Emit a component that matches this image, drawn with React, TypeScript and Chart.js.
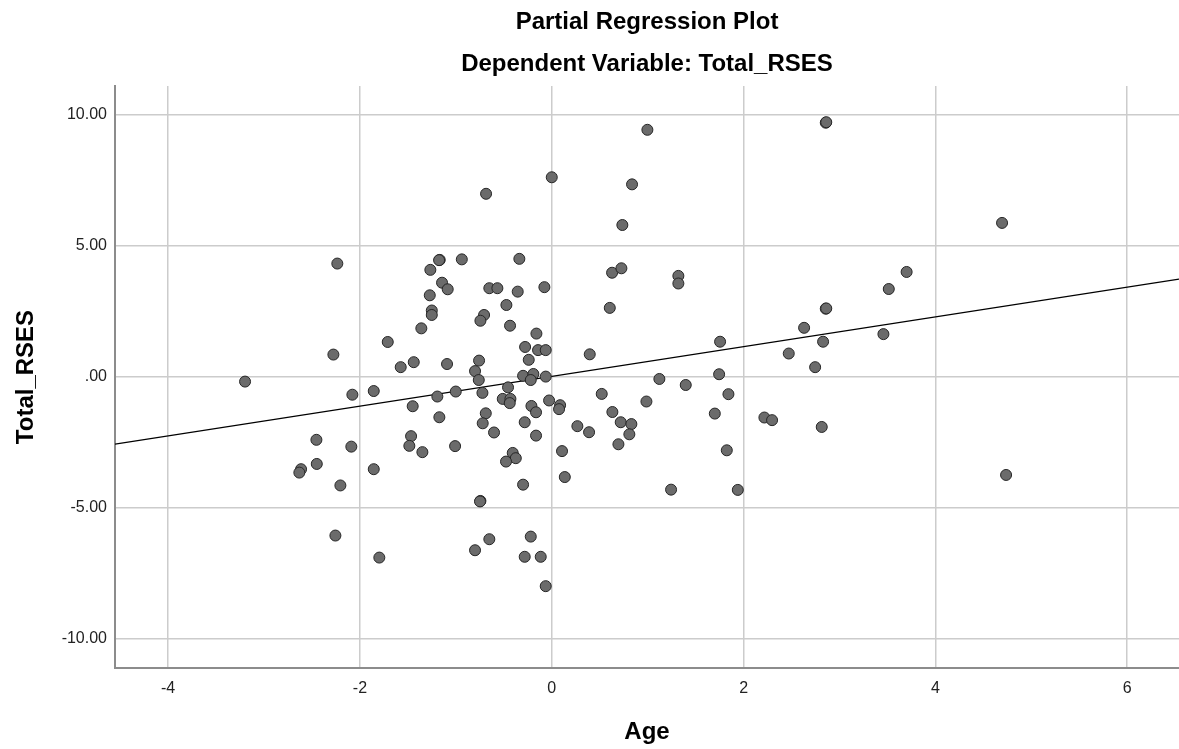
import React, { useEffect, useRef } from "react";
import { Chart, registerables } from "chart.js";

Chart.register(...registerables);

// Partial regression residuals (Age residual vs Total_RSES residual)
const ageResid: number[] = [
  -3.198, -2.236, -2.277, -1.71, -1.575, -2.079, -1.856, -2.454, -2.09, -2.45,
  -2.614, -2.632, -1.856, -2.204, -2.256, -1.798, 0.997, 0.0, -0.685, 0.837,
  0.736, -1.168, -1.175, -0.938, -0.338, -1.266, 0.629, 0.726, -1.144, -1.085,
  -0.651, -0.567, -0.355, -0.077, -1.272, -0.473, 0.605, -1.251, -1.251, -0.706,
  -0.744, -0.435, -1.36, -0.16, -0.278, -0.143, -0.063, 0.396, -0.24, -1.439,
  -1.092, -0.758, -0.8, -0.761, -0.299, -0.192, -0.219, -0.063, 1.122, 1.32,
  1.32, -0.456, -1.193, -1.001, -0.723, -0.511, -0.431, -0.438, -0.212, -0.164,
  -0.028, 0.087, 0.076, 0.521, 0.987, 0.632, 0.719, 0.83, 0.809, 0.695,
  0.267, 0.389, 0.107, 0.136, 1.244, -1.45, -1.172, -0.688, -0.72, -0.602,
  -0.282, -0.164, -1.467, -1.485, -1.349, -1.008, -0.407, -0.375, -0.477, -0.299,
  -0.744, -0.748, -0.651, -0.8, -0.219, -0.282, -0.115, -0.063, 2.857, 2.862,
  3.7, 3.514, 2.857, 2.862, 2.631, 2.829, 3.458, 1.755, 2.471, 2.746,
  1.745, 1.397, 1.842, 1.7, 2.217, 2.297, 2.815, 1.825, 1.94, 4.695,
  4.737,
];

const rsesResid: number[] = [
  -0.19, 4.31, 0.84, 1.32, 0.36, -0.69, -0.55, -2.41, -2.67, -3.33,
  -3.53, -3.66, -3.53, -4.15, -6.06, -6.9, 9.41, 7.6, 6.97, 7.33,
  5.78, 4.45, 4.44, 4.47, 4.49, 4.07, 3.96, 4.13, 3.58, 3.33,
  3.37, 3.37, 3.24, 3.41, 3.1, 2.73, 2.62, 2.52, 2.35, 2.35,
  2.13, 1.94, 1.84, 1.64, 1.13, 1.01, 1.01, 0.85, 0.64, 0.55,
  0.48, 0.61, 0.21, -0.13, 0.03, 0.1, -0.13, 0.0, -0.09, 3.84,
  3.55, -0.41, -0.76, -0.57, -0.62, -0.85, -0.85, -1.01, -1.12, -1.36,
  -0.91, -1.09, -1.24, -0.66, -0.95, -1.35, -1.74, -1.81, -2.2, -2.58,
  -1.89, -2.12, -2.84, -3.83, -4.31, -1.13, -1.55, -1.4, -1.78, -2.13,
  -1.74, -2.25, -2.27, -2.64, -2.88, -2.65, -2.91, -3.11, -3.24, -4.12,
  -4.74, -4.76, -6.2, -6.62, -6.1, -6.87, -6.87, -7.99, 9.68, 9.7,
  3.99, 3.34, 2.59, 2.6, 1.86, 1.33, 1.62, 1.33, 0.88, 0.36,
  0.09, -0.32, -0.67, -1.41, -1.56, -1.66, -1.92, -2.81, -4.32, 5.86,
  -3.75,
];

// Fit line (slope, intercept) of the partial regression
const fitSlope = 0.567;
const fitIntercept = 0.01;

// Axis ranges and tick steps
const xRange: number[] = [-4.554, 6.54];
const yRange: number[] = [-11.11, 11.08];
const xStep = 2;
const yStep = 5;

const TITLE = "Partial Regression Plot";
const SUBTITLE = "Dependent Variable: Total_RSES";
const X_TITLE = "Age";
const Y_TITLE = "Total_RSES";

const FONT = "'Liberation Sans', Arial, Helvetica, sans-serif";

export default function App() {
  const canvasRef = useRef<HTMLCanvasElement | null>(null);

  useEffect(() => {
    document.body.style.margin = "0";
    const canvas = canvasRef.current;
    if (!canvas) return;

    const points = ageResid.map((x, i) => ({ x, y: rsesResid[i] }));
    const linePts = xRange.map((x) => ({ x, y: fitIntercept + fitSlope * x }));

    const chart = new Chart(canvas, {
      type: "scatter",
      data: {
        datasets: [
          {
            type: "line",
            label: "Fit",
            data: linePts,
            borderColor: "#000000",
            borderWidth: 1.2,
            pointRadius: 0,
            fill: false,
            order: 2,
          },
          {
            label: "Residuals",
            data: points,
            backgroundColor: "#6b6b6b",
            borderColor: "#262626",
            borderWidth: 1,
            pointRadius: 5.5,
            pointHoverRadius: 5.5,
            order: 1,
          },
        ],
      },
      options: {
        animation: false,
        responsive: false,
        maintainAspectRatio: false,
        devicePixelRatio: 1,
        layout: { padding: 0, autoPadding: false },
        plugins: {
          legend: { display: false },
          tooltip: { enabled: false },
          title: {
            display: true,
            text: TITLE,
            fullSize: false,
            color: "#000000",
            font: { family: FONT, size: 24, weight: "bold", lineHeight: 1.2 },
            padding: { top: 7.6, bottom: 6.5 },
          },
          subtitle: {
            display: true,
            text: SUBTITLE,
            fullSize: false,
            color: "#000000",
            font: { family: FONT, size: 24, weight: "bold", lineHeight: 1.2 },
            padding: { top: 7, bottom: 7.3 },
          },
        },
        scales: {
          x: {
            type: "linear",
            position: "bottom",
            min: xRange[0],
            max: xRange[1],
            afterFit: (s: any) => {
              s.height = 81;
              s.paddingLeft = 0;
              s.paddingRight = 0;
            },
            ticks: {
              stepSize: xStep,
              includeBounds: false,
              color: "#222222",
              font: { family: FONT, size: 16 },
              padding: 11,
              maxRotation: 0,
              callback: (v: any) => String(v),
            },
            grid: {
              color: "#cccccc",
              lineWidth: 1.5,
              drawTicks: false,
            },
            border: { display: true, color: "#8c8c8c", width: 2 },
            title: {
              display: true,
              text: X_TITLE,
              color: "#000000",
              font: { family: FONT, size: 24, weight: "bold", lineHeight: 1.2 },
              padding: { top: 0, bottom: 2 },
            },
          },
          y: {
            type: "linear",
            position: "left",
            min: yRange[0],
            max: yRange[1],
            afterFit: (s: any) => {
              s.width = 115;
              s.paddingTop = 0;
              s.paddingBottom = 0;
            },
            ticks: {
              stepSize: yStep,
              includeBounds: false,
              color: "#222222",
              font: { family: FONT, size: 16 },
              padding: 8,
              callback: (v: any) => {
                const n = Number(v);
                if (Math.abs(n) < 1e-9) return ".00";
                return n.toFixed(2);
              },
            },
            grid: {
              color: "#cccccc",
              lineWidth: 1.5,
              drawTicks: false,
            },
            border: { display: true, color: "#8c8c8c", width: 2 },
            title: {
              display: true,
              text: Y_TITLE,
              color: "#000000",
              font: { family: FONT, size: 24, weight: "bold", lineHeight: 1.2 },
              padding: { top: 12, bottom: 0 },
            },
          },
        },
      },
    });

    return () => {
      chart.destroy();
    };
  }, []);

  return (
    <div
      style={{
        position: "fixed",
        left: 0,
        top: 0,
        width: "1179px",
        height: "749px",
        background: "#ffffff",
      }}
    >
      <canvas
        ref={canvasRef}
        width={1179}
        height={749}
        style={{ width: "1179px", height: "749px", display: "block" }}
      />
    </div>
  );
}
